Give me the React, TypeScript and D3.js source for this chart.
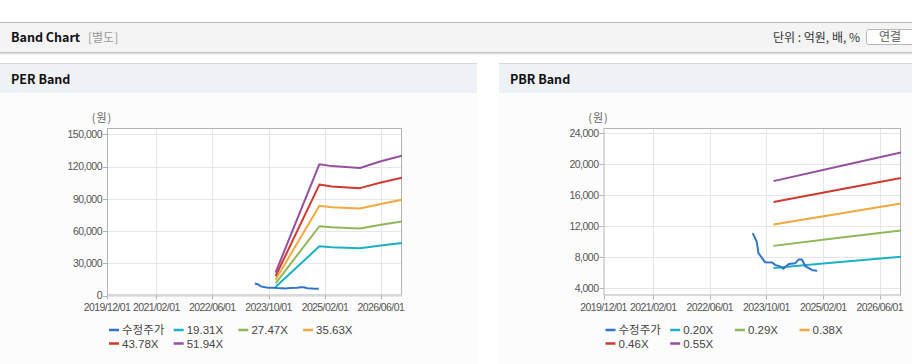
import React from "react";
import * as d3 from "d3";

// ---------- data ----------
const xTickLabels = ["2019/12/01", "2021/02/01", "2022/06/01", "2023/10/01", "2025/02/01", "2026/06/01"];
const xDomainLabels = ["2019/12/01", "2026/12/01"];

const priceName = "수정주가";
const priceDates = [
  "2023/06/05", "2023/07/10", "2023/07/25", "2023/08/10", "2023/09/20", "2023/11/20",
  "2023/12/15", "2024/01/25", "2024/02/25", "2024/04/10", "2024/06/05", "2024/07/05",
  "2024/08/01", "2024/09/01", "2024/10/10", "2024/11/01", "2024/12/10",
];
const priceValues = [11100, 10000, 8500, 8200, 7330, 7300, 7000, 6800, 6500, 7100, 7200, 7700, 7700, 6800, 6500, 6300, 6250];

const perTicks = [0, 30000, 60000, 90000, 120000, 150000];
const perDomain = [0, 156000];
const perBandNames = ["19.31X", "27.47X", "35.63X", "43.78X", "51.94X"];
const perBandDates = ["2023/12/01", "2024/12/15", "2025/04/01", "2025/12/01", "2026/06/01", "2026/12/01"];
const per1931 = [7900, 45800, 45000, 44000, 46500, 48800];
const per2747 = [11300, 64500, 63500, 62400, 65800, 69000];
const per3563 = [14600, 83500, 82300, 81000, 85300, 89200];
const per4378 = [17900, 103300, 101600, 100000, 105300, 109600];
const per5194 = [21300, 122300, 120500, 118700, 125000, 130300];

const pbrTicks = [4000, 8000, 12000, 16000, 20000, 24000];
const pbrDomain = [3050, 24650];
const pbrBandNames = ["0.20X", "0.29X", "0.38X", "0.46X", "0.55X"];
const pbrBandDates = ["2023/12/01", "2025/06/01", "2026/12/01"];
const pbr020 = [6600, 7330, 8050];
const pbr029 = [9450, 10450, 11430];
const pbr038 = [12200, 13550, 14900];
const pbr046 = [15100, 16650, 18200];
const pbr055 = [17800, 19650, 21500];

const priceColor = "#3275c8";
const bandColors = ["#1cb1c6", "#8fb75a", "#f1a83c", "#cf3a30", "#974f9f"];

// ---------- helpers ----------
const parse = d3.timeParse("%Y/%m/%d");
const fmt = d3.format(",");
const tickFont = "'Liberation Sans', Arial, sans-serif";
const krFont = "'Noto Sans CJK KR', 'Liberation Sans', sans-serif";

type ChartProps = {
  id: string;
  x0: number; x1: number; y0: number; y1: number;
  yDomain: number[]; yTicks: number[];
  bandDates: string[]; bands: number[][]; bandNames: string[];
};

function Chart({ id, x0, x1, y0, y1, yDomain, yTicks, bandDates, bands, bandNames }: ChartProps) {
  const x = d3.scaleTime().domain(xDomainLabels.map((d) => parse(d) as Date)).range([x0, x1]);
  const y = d3.scaleLinear().domain(yDomain).range([y1, y0]);
  const line = d3
    .line<[Date, number]>()
    .x((d) => x(d[0]))
    .y((d) => y(d[1]));
  const bDates = bandDates.map((d) => parse(d) as Date);
  const pDates = priceDates.map((d) => parse(d) as Date);
  const xTicks = xTickLabels.map((d) => parse(d) as Date);

  const legendItems = [{ name: priceName, color: priceColor }].concat(
    bandNames.map((n, i) => ({ name: n, color: bandColors[i] }))
  );

  return (
    <g>
      <defs>
        <clipPath id={id}>
          <rect x={x0} y={y0} width={x1 - x0} height={y1 - y0} />
        </clipPath>
      </defs>
      <rect x={x0} y={y0} width={x1 - x0} height={y1 - y0} fill="#ffffff" />
      {yTicks.map((t) => (
        <line key={"hg" + t} x1={x0} x2={x1} y1={Math.round(y(t)) + 0.5} y2={Math.round(y(t)) + 0.5} stroke="#e6e6e6" />
      ))}
      {xTicks.slice(1).map((t, i) => (
        <line key={"vg" + i} x1={Math.round(x(t)) + 0.5} x2={Math.round(x(t)) + 0.5} y1={y0} y2={y1} stroke="#e6e6e6" />
      ))}
      <rect x={x0 + 0.5} y={y0 + 0.5} width={x1 - x0 - 1} height={y1 - y0 - 1} fill="none" stroke="#b3b3b3" />
      {yTicks.map((t) => (
        <g key={"yt" + t}>
          <line x1={x0 - 4} x2={x0} y1={Math.round(y(t)) + 0.5} y2={Math.round(y(t)) + 0.5} stroke="#b3b3b3" />
          <text x={x0 - 5} y={y(t)} dy="0.35em" textAnchor="end" fontSize={10.5} letterSpacing={-0.5} fill="#555" fontFamily={tickFont}>
            {fmt(t)}
          </text>
        </g>
      ))}
      {xTicks.map((t, i) => (
        <g key={"xt" + i}>
          <line x1={Math.round(x(t)) + 0.5} x2={Math.round(x(t)) + 0.5} y1={y1} y2={y1 + 4} stroke="#b3b3b3" />
          <text x={x(t)} y={y1 + 15} textAnchor="middle" fontSize={10.5} letterSpacing={-0.6} fill="#555" fontFamily={tickFont}>
            {xTickLabels[i]}
          </text>
        </g>
      ))}
      <text x={x0 - 5} y={118} dy="0.35em" textAnchor="middle" fontSize={11} letterSpacing={1} fill="#666" fontFamily={krFont}>
        (원)
      </text>
      <g clipPath={`url(#${id})`}>
        {bands.map((vals, i) => (
          <path
            key={"b" + i}
            d={line(vals.map((v, j) => [bDates[j], v] as [Date, number])) || ""}
            fill="none"
            stroke={bandColors[i]}
            strokeWidth={2}
            strokeLinejoin="round"
          />
        ))}
        <path
          d={line(priceValues.map((v, j) => [pDates[j], v] as [Date, number])) || ""}
          fill="none"
          stroke={priceColor}
          strokeWidth={2}
          strokeLinejoin="round"
        />
      </g>
      {legendItems.map((it, i) => {
        const col = i % 4;
        const row = Math.floor(i / 4);
        const lx = x0 + 2 + col * 64.7;
        const ly = 330 + row * 13.5;
        return (
          <g key={"lg" + i}>
            <line x1={lx} x2={lx + 10} y1={ly} y2={ly} stroke={it.color} strokeWidth={2.5} />
            <text x={lx + 13} y={ly} dy="0.35em" fontSize={11.5} fill="#444" fontFamily={i === 0 ? krFont : tickFont}>
              {it.name}
            </text>
          </g>
        );
      })}
    </g>
  );
}

export default function App() {
  const W = 912;
  const H = 364;
  return (
    <svg width={W} height={H} style={{ position: "absolute", left: 0, top: 0 }} fontFamily={krFont}>
      <rect x={0} y={0} width={W} height={H} fill="#ffffff" />
      {/* top header */}
      <rect x={0} y={22} width={W} height={31} fill="#f4f4f4" />
      <line x1={0} x2={W} y1={22.5} y2={22.5} stroke="#bdbdbd" />
      <line x1={0} x2={W} y1={52.5} y2={52.5} stroke="#c4c4c4" />
      <line x1={0} x2={W} y1={53.5} y2={53.5} stroke="#e2e2e2" />
      <line x1={0} x2={W} y1={54.5} y2={54.5} stroke="#f1f1f1" />
      <text x={11} y={38} dy="0.35em" fontSize={12.5} fontWeight="bold" fill="#111" fontFamily={krFont}>
        Band Chart
      </text>
      <text x={88} y={38} dy="0.35em" fontSize={12} fill="#999" fontFamily={krFont}>
        [별도]
      </text>
      <text x={860} y={38} dy="0.35em" textAnchor="end" fontSize={12} fill="#333" fontFamily={krFont}>
        단위 : 억원, 배, %
      </text>
      <rect x={866.5} y={29.5} width={56} height={15} rx={2} fill="#ffffff" stroke="#b8b8b8" />
      <text x={890} y={37} dy="0.35em" textAnchor="middle" fontSize={12} fontWeight={500} fill="#777" fontFamily={krFont}>
        연결
      </text>

      {/* panels */}
      <rect x={0} y={64} width={477} height={300} fill="#fcfcfc" />
      <rect x={499} y={64} width={413} height={300} fill="#fcfcfc" />
      <rect x={0} y={64} width={477} height={29} fill="#eef2f6" />
      <rect x={499} y={64} width={413} height={29} fill="#eef2f6" />
      <line x1={0} x2={477} y1={63.5} y2={63.5} stroke="#d6d6d6" />
      <line x1={499} x2={912} y1={63.5} y2={63.5} stroke="#d6d6d6" />
      <text x={11} y={80} dy="0.35em" fontSize={12.5} fontWeight="bold" fill="#111" fontFamily={krFont}>
        PER Band
      </text>
      <text x={510} y={80} dy="0.35em" fontSize={12.5} fontWeight="bold" fill="#111" fontFamily={krFont}>
        PBR Band
      </text>

      <Chart
        id="clipPer"
        x0={107}
        x1={402}
        y0={128}
        y1={295.5}
        yDomain={perDomain}
        yTicks={perTicks}
        bandDates={perBandDates}
        bands={[per1931, per2747, per3563, per4378, per5194]}
        bandNames={perBandNames}
      />
      <Chart
        id="clipPbr"
        x0={603.5}
        x1={901}
        y0={128}
        y1={295.5}
        yDomain={pbrDomain}
        yTicks={pbrTicks}
        bandDates={pbrBandDates}
        bands={[pbr020, pbr029, pbr038, pbr046, pbr055]}
        bandNames={pbrBandNames}
      />
    </svg>
  );
}
